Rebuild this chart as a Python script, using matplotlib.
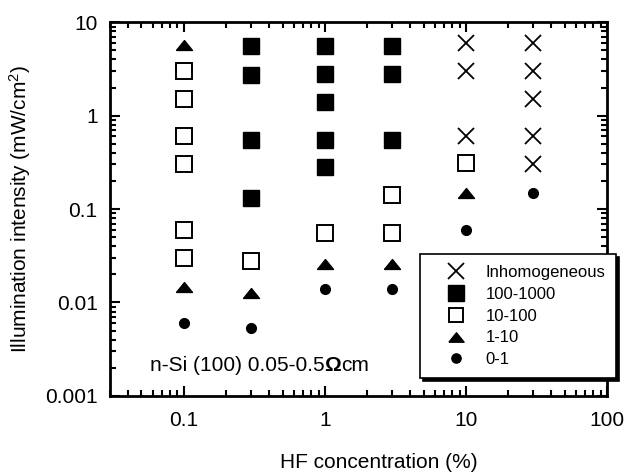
import numpy as np
import matplotlib
matplotlib.use('Agg')
import matplotlib.pyplot as plt
from matplotlib.ticker import LogLocator, NullFormatter, FixedLocator, FixedFormatter

plt.rcParams['font.family'] = ['Liberation Sans', 'DejaVu Sans']
plt.rcParams['mathtext.fontset'] = 'custom'
plt.rcParams['mathtext.rm'] = 'Liberation Sans'
plt.rcParams['mathtext.it'] = 'Liberation Sans'

# --- DATA (HF concentration %, illumination mW/cm2) ---
inhom_x = [10, 10, 10, 30, 30, 30, 30, 30]
inhom_y = [6, 3, 0.6, 6, 3, 1.5, 0.6, 0.3]

r100_x = [0.3, 0.3, 0.3, 0.3, 1, 1, 1, 1, 1, 3, 3, 3]
r100_y = [5.5, 2.7, 0.55, 0.13, 5.5, 2.8, 1.4, 0.55, 0.28, 5.5, 2.8, 0.55]

r10_x = [0.1, 0.1, 0.1, 0.1, 0.1, 0.1, 0.3, 1, 3, 3, 10]
r10_y = [3, 1.5, 0.6, 0.3, 0.06, 0.03, 0.028, 0.055, 0.14, 0.055, 0.31]

r1_x = [0.1, 0.1, 0.3, 1, 3, 10]
r1_y = [5.7, 0.0145, 0.0125, 0.026, 0.026, 0.15]

r0_x = [0.1, 0.3, 1, 3, 10, 30]
r0_y = [0.006, 0.0053, 0.014, 0.014, 0.06, 0.15]

xticks = [0.1, 1, 10, 100]
xlabels = ['0.1', '1', '10', '100']
yticks = [0.001, 0.01, 0.1, 1, 10]
ylabels = ['0.001', '0.01', '0.1', '1', '10']

# flat triangle like the original
tri = [(-1, -0.62), (1, -0.62), (0, 0.62), (-1, -0.62)]

fig = plt.figure(figsize=(6.37, 4.73), dpi=100)
ax = fig.add_axes([0.173, 0.163, 0.780, 0.790])

ax.plot(inhom_x, inhom_y, 'x', color='black', ms=11.5, mew=1.3, label='Inhomogeneous')
ax.plot(r100_x, r100_y, 's', color='black', ms=11.5, label='100-1000')
ax.plot(r10_x, r10_y, 's', mfc='white', mec='black', ms=11, mew=1.4, label='10-100')
ax.plot(r1_x, r1_y, marker=tri, ls='none', color='black', ms=11.5, label='1-10')
ax.plot(r0_x, r0_y, 'o', color='black', ms=7, label='0-1')

ax.set_xscale('log')
ax.set_yscale('log')
ax.set_xlim(0.03, 100)
ax.set_ylim(0.001, 10)

ax.xaxis.set_major_locator(FixedLocator(xticks))
ax.xaxis.set_major_formatter(FixedFormatter(xlabels))
ax.yaxis.set_major_locator(FixedLocator(yticks))
ax.yaxis.set_major_formatter(FixedFormatter(ylabels))
ax.xaxis.set_minor_locator(LogLocator(base=10, subs=np.arange(2, 10), numticks=20))
ax.yaxis.set_minor_locator(LogLocator(base=10, subs=np.arange(2, 10), numticks=20))
ax.xaxis.set_minor_formatter(NullFormatter())
ax.yaxis.set_minor_formatter(NullFormatter())

ax.tick_params(which='both', direction='in', top=True, right=True, width=1.5, labelsize=15)
ax.tick_params(which='major', length=7)
ax.tick_params(which='minor', length=4)
ax.tick_params(axis='x', which='major', pad=11)
ax.tick_params(axis='y', which='major', pad=9)
for s in ax.spines.values():
    s.set_linewidth(2)

ax.set_xlabel('HF concentration (%)', fontsize=15)
ax.xaxis.set_label_coords(0.54, -0.152)
ax.set_ylabel('Illumination intensity (mW/cm$^2$)', fontsize=15)
ax.yaxis.set_label_coords(-0.155, 0.5)

# annotation with bold omega
t1 = ax.text(0.0574, 0.00185, 'n-Si (100) 0.05-0.5', fontsize=15, ha='left', va='baseline')
t2 = ax.annotate('\u03a9', xy=(1, 0), xycoords=t1, fontsize=15, fontweight='bold',
                 ha='left', va='bottom')
ax.annotate('cm', xy=(1, 0), xycoords=t2, fontsize=15, ha='left', va='bottom')

leg = ax.legend(loc='upper left', bbox_to_anchor=(0.659, 0.463), bbox_transform=fig.transFigure,
                borderaxespad=0, fancybox=False, shadow={'color': 'black', 'alpha': 1},
                edgecolor='black', framealpha=1, fontsize=12, handletextpad=0.3,
                labelspacing=0.41, borderpad=0.65, handlelength=3, markerscale=0.95)
leg.get_frame().set_linewidth(1.2)

fig.savefig('out.png', dpi=100)
